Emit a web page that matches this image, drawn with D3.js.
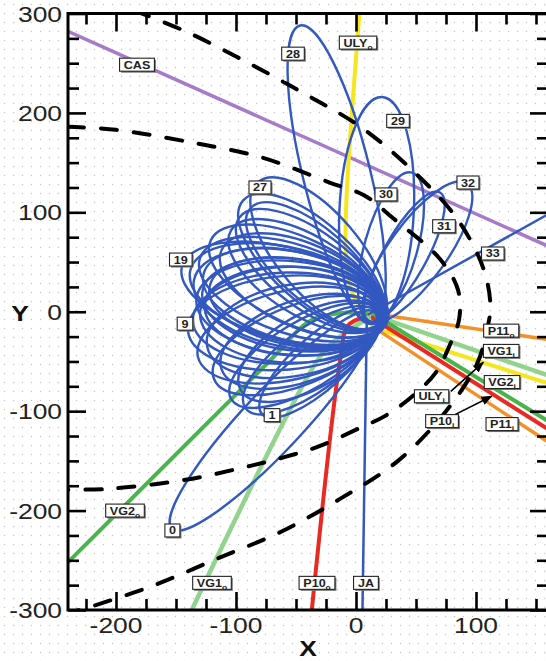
<!DOCTYPE html>
<html><head><meta charset="utf-8">
<script src="https://cdn.jsdelivr.net/npm/d3@7"></script>
<style>body{margin:0;background:#fff}svg{display:block}</style>
</head><body><svg id="c" width="546" height="661"></svg>
<script>
// ---------- data ----------
const xDomain = [-240, 160];
const yDomain = [-300, 300];
const xTickLabels = [-200, -100, 0, 100];
const yTickLabels = [-300, -200, -100, 0, 100, 200, 300];

// Cassini trajectory
const casX = [-240, 160];
const casY = [282, 66];

// outer dashed boundary
const hpX = [-185, -142, -94, -44, 5, 49, 84, 106, 112, 109, 101, 75, 35, -13, -62, -115, -168, -222, -245];
const hpY = [303, 282, 253, 220, 185, 140, 94, 44, 6, -19, -52, -100, -150, -188, -221, -248, -275, -297, -305];
// inner dashed boundary
const tsX = [-240, -200, -140, -78, -22, 7, 31, 70, 85, 86, 78, 66, 45, 24, 3, -30, -59, -88, -142, -205, -240];
const tsY = [186, 183, 171, 155, 130, 117, 94, 53, 22, -7, -34, -62, -87, -105, -117, -135, -146, -155, -169, -178, -179];

// spacecraft trajectories
const ulyOutX = [3, -8, -8.5, -5, 3, 12];
const ulyOutY = [302, 112, 62, 26, 6, -3];
const vg2OutX = [-245, -72, -38, -10, 12];
const vg2OutY = [-258, -49.5, -9, -1, -3];
const vg1OutX = [12, -17.5, -32.5, -140];
const vg1OutY = [-5, -29, -49.5, -308];
const p10OutX = [8, -6.7, -13.3, -37.5];
const p10OutY = [-5, -14, -49.5, -308];
const jaX = [9, 5.3];
const jaY = [-8, -308];
const p11OutX = [10, 160];
const p11OutY = [-1, -28];
const vg1InX = [13, 160];
const vg1InY = [-3, -64];
const ulyInX = [12, 160];
const ulyInY = [-15, -72];
const vg2InX = [14, 160];
const vg2InY = [-2, -110];
const p10InX = [12, 160];
const p10InY = [-5, -118];
const p11InX = [14, 160];
const p11InY = [-15, -131];
const orbit33X = [10, 160];
const orbit33Y = [-3, 98];

// closed orbits 0..32: far apex point, half width, perihelion offset (data units)
const sunX = 13, sunY = -4;
const loopApexX = [-153.3, -78.3, -92, -104, -96, -118.3, -112, -131.7, -124, -140, -136, -130, -126, -133, -128, -122, -135, -127, -138, -145, -130, -112, -121, -104, -97, -88, -94, -81.7, -46.7, 21.7, 46.7, 70, 92.5];
const loopApexY = [-218.2, -103, -97, -88, -79, -67.7, -58, -45.5, -35, -19.2, -9.1, -2, 6, 13, 20, 25, 32, 38, 42, 45.5, 54, 62, 72, 82, 95, 104, 112, 130.3, 287.9, 216, 140, 120, 129];
const loopHalfW = [25, 22, 26, 28, 31, 33, 34, 37, 38, 39, 38, 40, 37, 39, 38, 36, 40, 37, 39, 38, 37, 35, 36, 33, 32, 30, 33, 34, 28, 31, 22, 18, 24];
const loopPeri = [4, 6, 5, 7, 6, 8, 6, 9, 7, 10, 8, 11, 9, 12, 10, 13, 11, 12, 13, 14, 12, 11, 12, 10, 11, 9, 10, 10, 6, 7, 5, 5, 5];

// annotation arrows
const arrowX1 = [79, 80], arrowY1 = [-80, -105];
const arrowX2 = [106, 113], arrowY2 = [-51, -85];

// labels
const labelText = ["CAS","28","ULY","29","27","30","32","31","33","19","9","P11","VG1","ULY","VG2","P10","P11","1","VG2","0","VG1","P10","JA"];
const labelSub  = ["","","o","","","","","","","","","o","i","i","i","i","i","","o","","o","o",""];
const labelX = [-182.5,-52.5,1.7,35,-80,25,93.3,73.3,114,-146,-142.5,121,121,63,121.7,71.7,121.7,-70,-192.5,-153,-120,-32.5,8.3];
const labelY = [248.5,259.6,270.7,192,125,118,130,86,58.6,52.5,-12,-19,-39.4,-85,-70.7,-110,-113,-104,-200,-220,-272.7,-272.7,-272.7];

// ---------- drawing ----------
const svg = d3.select('#c');
const W = 546, H = 661;
const x = d3.scaleLinear().domain(xDomain).range([68, 548]);
const y = d3.scaleLinear().domain(yDomain).range([610, 13.5]);
const FONT = '"Liberation Sans", Arial, Helvetica, sans-serif';

const defs = svg.append('defs');
const pat = defs.append('pattern').attr('id','dots').attr('width',9).attr('height',9).attr('patternUnits','userSpaceOnUse');
pat.append('rect').attr('width',9).attr('height',9).attr('fill','#fff');
pat.append('circle').attr('cx',4.5).attr('cy',4.5).attr('r',0.7).attr('fill','#c4c4c4');
defs.append('clipPath').attr('id','plot').append('rect')
  .attr('x',x(xDomain[0])).attr('y',y(yDomain[1])).attr('width',x(xDomain[1])-x(xDomain[0])).attr('height',y(yDomain[0])-y(yDomain[1]));
defs.append('marker').attr('id','arr').attr('viewBox','0 0 10 10').attr('refX',9).attr('refY',5)
  .attr('markerWidth',7).attr('markerHeight',7).attr('orient','auto-start-reverse')
  .append('path').attr('d','M0,1 L10,5 L0,9 Z').attr('fill','#000');

svg.append('rect').attr('width',W).attr('height',H).attr('fill','url(#dots)');

const plot = svg.append('g').attr('clip-path','url(#plot)');
const lineXY = (xs, ys) => xs.map((v,i)=>[x(v), y(ys[i])]);
const curve = d3.line().curve(d3.curveCatmullRom.alpha(0.5));
const straight = d3.line();

function traj(xs, ys, color, w, gen){
  plot.append('path').attr('d', (gen||straight)(lineXY(xs, ys)))
    .attr('fill','none').attr('stroke',color).attr('stroke-width',w).attr('stroke-linecap','butt').attr('stroke-linejoin','round');
}

const C = {cas:'#a67cc8', yel:'#f6e61e', ora:'#f2912a', red:'#e92a22', grn:'#48b44a', lgr:'#92d48d', blu:'#3358c0'};

traj(casX, casY, C.cas, 3.5);
traj(p11OutX, p11OutY, C.ora, 3.5);
traj(vg1InX, vg1InY, C.lgr, 4.5);
traj(ulyInX, ulyInY, C.yel, 4);
traj(vg2InX, vg2InY, C.grn, 4);
traj(p10InX, p10InY, C.red, 4);
traj(p11InX, p11InY, C.ora, 3.5);
traj(ulyOutX, ulyOutY, C.yel, 4, curve);
traj(vg2OutX, vg2OutY, C.grn, 4, curve);
traj(vg1OutX, vg1OutY, C.lgr, 4.5, curve);
traj(p10OutX, p10OutY, C.red, 4, curve);
traj(jaX, jaY, C.blu, 2.5);
traj(orbit33X, orbit33Y, C.blu, 2.5);

// closed orbits as ellipses: near vertex just beyond the sun, far vertex at apex
const sx = x(sunX), sy = y(sunY);
const pxPerUnit = x(1) - x(0);
loopApexX.forEach((ax, i) => {
  const Ax = x(ax), Ay = y(loopApexY[i]);
  const dx = Ax - sx, dy = Ay - sy;
  const L = Math.hypot(dx, dy);
  const ux = dx / L, uy = dy / L;
  const Px = sx - ux * loopPeri[i] * pxPerUnit, Py = sy - uy * loopPeri[i] * pxPerUnit;
  const rx = Math.hypot(Ax - Px, Ay - Py) / 2;
  const ry = loopHalfW[i] * pxPerUnit;
  const ang = Math.atan2(dy, dx) * 180 / Math.PI;
  const d = `M${Px},${Py} A${rx},${ry} ${ang} 0 1 ${Ax},${Ay} A${rx},${ry} ${ang} 0 1 ${Px},${Py} Z`;
  plot.append('path').attr('d', d).attr('fill','none').attr('stroke',C.blu).attr('stroke-width',2.4);
});

// dashed boundaries
[[hpX,hpY],[tsX,tsY]].forEach(([xs,ys]) => {
  plot.append('path').attr('d', curve(lineXY(xs, ys)))
    .attr('fill','none').attr('stroke','#000').attr('stroke-width',4)
    .attr('stroke-dasharray','16,17').attr('stroke-linecap','round');
});

// arrows
arrowX1.forEach((v,i) => {
  svg.append('line').attr('x1',x(v)).attr('y1',y(arrowY1[i])).attr('x2',x(arrowX2[i])).attr('y2',y(arrowY2[i]))
    .attr('stroke','#000').attr('stroke-width',1.6).attr('marker-end','url(#arr)');
});

// labels
labelText.forEach((t, i) => {
  const g = svg.append('g').attr('transform',`translate(${x(labelX[i])},${y(labelY[i])})`);
  const sh = g.append('rect').attr('fill','#777');
  const bx = g.append('rect').attr('fill','#fff').attr('stroke','#222').attr('stroke-width',1.1);
  const tx = g.append('text').attr('font-family',FONT).attr('font-weight','bold').attr('font-size',10.5)
    .attr('fill','#222').attr('transform','scale(1.2,1)').attr('x',0).attr('y',4).attr('text-anchor','middle');
  tx.append('tspan').text(t);
  if (labelSub[i]) tx.append('tspan').attr('font-size',7).attr('dy',3).text(labelSub[i]);
  const bb = tx.node().getBBox();
  const w = bb.width * 1.2 + 8, h = 13;
  bx.attr('x',-w/2).attr('y',-h/2).attr('width',w).attr('height',h);
  sh.attr('x',-w/2+1.5).attr('y',-h/2+1.5).attr('width',w).attr('height',h);
});

// axes ticks (inward)
const xMinor = d3.range(-225, 160, 25).filter(v => v % 100 !== 0);
const yMinor = d3.range(-275, 300, 25).filter(v => v % 100 !== 0);
function tickAxis(gen, scale, vals, size, tr){
  svg.append('g').attr('transform',tr)
    .call(gen(scale).tickValues(vals).tickSize(size).tickFormat(''))
    .call(g => g.select('.domain').remove())
    .selectAll('line').attr('stroke','#000').attr('stroke-width',2.6);
}
tickAxis(d3.axisTop, x, xMinor, 11, `translate(0,${y(-300)})`);
tickAxis(d3.axisTop, x, xTickLabels, 18, `translate(0,${y(-300)})`);
tickAxis(d3.axisBottom, x, xMinor, 11, `translate(0,${y(300)})`);
tickAxis(d3.axisBottom, x, xTickLabels, 18, `translate(0,${y(300)})`);
tickAxis(d3.axisRight, y, yMinor, 11, `translate(${x(-240)},0)`);
tickAxis(d3.axisRight, y, yTickLabels, 18, `translate(${x(-240)},0)`);
tickAxis(d3.axisLeft, y, yMinor, 11, `translate(${x(160)},0)`);
tickAxis(d3.axisLeft, y, yTickLabels, 18, `translate(${x(160)},0)`);

svg.append('rect').attr('x',x(-240)).attr('y',y(300)).attr('width',x(160)-x(-240)).attr('height',y(-300)-y(300))
  .attr('fill','none').attr('stroke','#000').attr('stroke-width',3);

// tick labels
yTickLabels.forEach(v => {
  svg.append('text').attr('transform',`translate(62,${y(v)+8}) scale(1.2,1)`)
    .attr('text-anchor','end').attr('font-family',FONT).attr('font-size',22).attr('fill','#222').text(String(v));
});
xTickLabels.forEach(v => {
  svg.append('text').attr('transform',`translate(${x(v)},633) scale(1.2,1)`)
    .attr('text-anchor','middle').attr('font-family',FONT).attr('font-size',22).attr('fill','#222').text(String(v));
});
svg.append('text').attr('transform','translate(308,656) scale(1.2,1)').attr('text-anchor','middle')
  .attr('font-family',FONT).attr('font-weight','bold').attr('font-size',22).attr('fill','#111').text('X');
svg.append('text').attr('transform','translate(20,321) scale(1.2,1)').attr('text-anchor','middle')
  .attr('font-family',FONT).attr('font-weight','bold').attr('font-size',22).attr('fill','#111').text('Y');
</script></body></html>
